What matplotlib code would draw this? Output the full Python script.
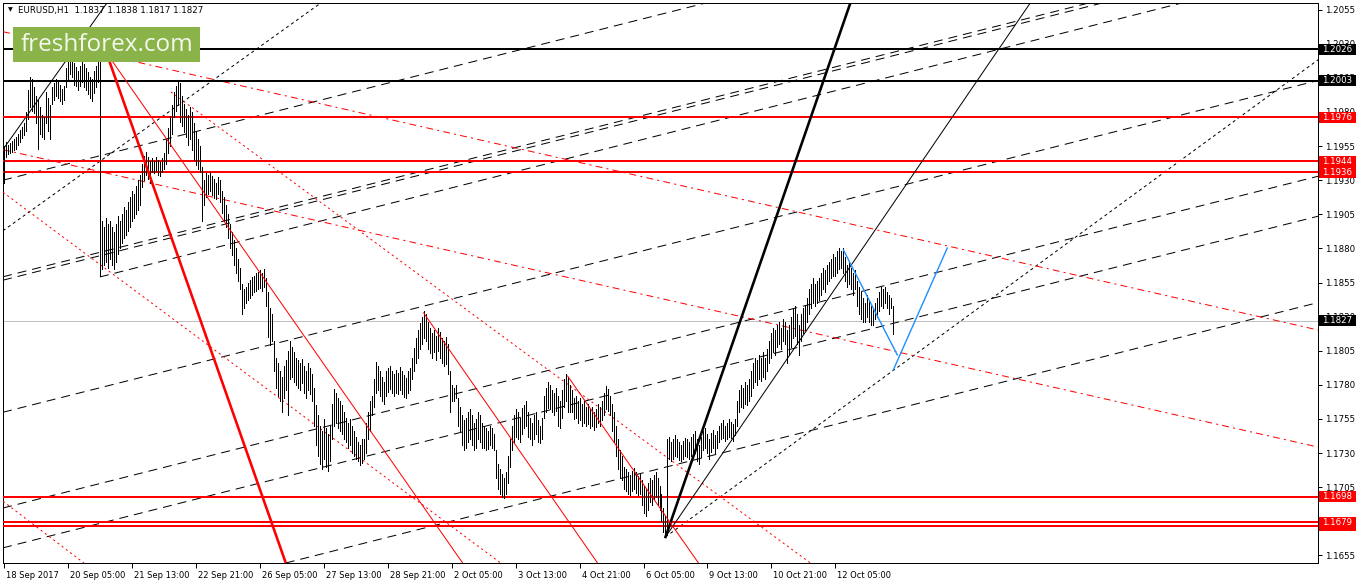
import matplotlib
matplotlib.use('Agg')
import matplotlib.pyplot as plt
import matplotlib.transforms as mtransforms
from matplotlib.patches import Rectangle

plt.rcParams['font.family'] = 'DejaVu Sans'
plt.rcParams['lines.scale_dashes'] = False

# ---------------- data ----------------
symbol_info = "EURUSD,H1  1.1837 1.1838 1.1817 1.1827"
BASE = 1.1600  # bar highs / lows below are pips above this

highs_pips = [
    355,
    358, 356, 357, 359, 360,
    362, 364, 367, 369, 372,
    380, 396, 406, 404, 398,
    392, 389, 384, 378, 376,
    395, 390, 385,
    398, 401, 404, 403, 400, 397, 399,
    412, 418, 425, 421, 416, 413, 410, 414, 417, 415,
    412, 409, 406, 404, 410, 414, 418,
    418,
    300, 296, 302, 298, 300, 296, 292, 298, 304,
    300, 305, 310, 308, 314, 318, 322, 320, 326, 330, 334,
    342, 348, 351, 347, 344,
    346, 344, 347, 345, 343, 346, 350,
    360, 368, 377, 385, 395, 399, 403, 401,
    392, 386, 382, 378, 384, 380, 372, 366, 360, 355,
    340, 330, 335, 334, 336, 333, 331, 328, 332, 330,
    322, 318, 312, 305, 298, 292, 286, 280, 272, 266,
    254, 250, 252, 255, 257, 259, 260, 262, 263, 264, 262, 265,
    258, 248, 236, 232,
    212, 200, 196, 190, 186, 194, 198,
    205, 212, 208,
    204, 200, 198, 196, 199, 194, 190, 196, 192, 188,
    178, 165, 158, 150, 146, 155, 148, 144, 150,
    166, 177, 174, 170, 168,
    165, 160, 156, 152, 155, 150, 146, 142, 138, 136, 140,
    140, 152, 160, 168,
    172, 184, 197, 194, 190, 186, 182,
    190, 192, 194, 190, 188, 191, 189, 193, 190, 187, 185, 190, 192,
    200, 207, 214, 220, 225, 230, 234, 232,
    226, 222, 218, 220, 216, 222, 219, 214, 212, 215,
    210, 190, 180, 178, 180,
    170, 164, 158, 154, 156, 160, 162, 158, 152, 155, 160, 158, 152,
    150, 148, 146, 150, 148, 144,
    132, 122, 118, 115, 112, 116, 128,
    140, 150, 158, 162, 160, 156, 163,
    165, 168, 160, 156, 152, 158, 160, 154, 150, 156,
    172, 178, 182, 180, 176, 174, 178,
    172, 168, 176, 184, 188, 186, 180,
    176, 170, 172, 168, 170, 166, 168, 164, 166, 162, 164, 160, 162, 166,
    164, 168,
    174, 179, 177, 172,
    166, 160, 150, 140, 132, 128,
    120, 118, 116, 114, 117, 119, 116, 113, 115,
    110, 106, 104, 108, 112, 110, 114, 116, 112, 106,
    100, 90, 84,
    140,
    142, 138, 140, 143, 140, 138, 136, 139, 141, 140, 138, 142,
    144, 146, 140, 136, 142, 146, 148, 144, 140, 145, 147, 143,
    146, 150, 152, 154, 150, 152, 155, 153, 151, 155,
    168, 176, 180, 178, 182, 180, 184,
    190, 196, 200, 198, 202, 200, 204, 200,
    206, 212, 218, 222, 220, 224, 226, 222, 228, 226,
    220, 224, 230, 236, 238, 232, 224, 232, 236, 238,
    244, 250, 254, 258, 254, 256, 258,
    262, 266, 264, 268, 270, 272, 276, 274, 278, 280, 278,
    280, 274, 268, 270, 266, 262, 264,
    256, 252, 248, 244, 240, 246, 242, 238, 236, 240,
    244, 248, 252, 250, 252, 248, 246, 244,
    238,
]

lows_pips = [
    328,
    347, 349, 350, 351, 352,
    353, 356, 358, 361, 363,
    366, 375, 384, 381, 379,
    372, 353, 364, 362, 360,
    372, 366, 360,
    386, 389, 392, 390, 388, 386, 389,
    398, 403, 408, 406, 400, 399, 396, 399, 402, 398,
    396, 393, 390, 388, 394, 398, 402,
    260,
    265, 268, 270, 266, 272, 268, 265, 270, 276,
    280, 284, 288, 290, 293, 296, 300, 302, 305, 308, 312,
    325, 330, 334, 331, 328,
    336, 335, 337, 334, 333, 336, 338,
    342, 350, 355, 364, 376, 381, 385, 373,
    370, 365, 362, 356, 360, 352, 345, 341, 338, 336,
    300, 312, 318, 320, 322, 319, 317, 316, 320, 314,
    306, 300, 296, 288, 280, 275, 268, 262, 256, 250,
    232, 236, 240, 242, 244, 246, 248, 249, 250, 251, 249, 252,
    238, 215, 209, 212,
    190, 178, 172, 168, 160, 170, 176,
    158, 184, 186,
    182, 180, 178, 176, 181, 174, 170, 176, 173, 168,
    150, 136, 128, 122, 118, 126, 120, 117, 124,
    140, 150, 152, 148, 146,
    144, 140, 138, 134, 136, 130, 128, 126, 124, 121, 123,
    126, 130, 140, 146,
    158, 164, 174, 176, 172, 168, 166,
    172, 175, 177, 174, 172, 174, 173, 176, 173, 171, 170, 174, 176,
    184, 190, 196, 200, 206, 210, 214, 212,
    206, 203, 200, 204, 198, 205, 200, 196, 194, 195,
    188, 160, 168, 168, 170,
    150, 146, 136, 132, 134, 138, 140, 136, 132, 134, 140, 138, 134,
    134, 132, 133, 136, 134, 132,
    112, 104, 100, 98, 97, 100, 108,
    120, 132, 138, 142, 140, 138, 144,
    148, 150, 142, 140, 136, 140, 144, 138, 137, 140,
    156, 160, 163, 162, 160, 158, 161,
    150, 148, 156, 164, 168, 160, 160,
    160, 155, 156, 152, 154, 150, 152, 150, 151, 148, 150, 147, 149, 152,
    150, 154,
    158, 162, 161, 158,
    146, 138, 128, 118, 112, 110,
    104, 102, 100, 99, 102, 104, 101, 99, 100,
    92, 86, 84, 88, 94, 92, 96, 98, 92, 88,
    80, 72, 70,
    74,
    126, 124, 126, 128, 127, 125, 124, 126, 128, 127, 126, 128,
    128, 130, 124, 122, 127, 132, 134, 130, 126, 131, 134, 130,
    134, 138, 140, 141, 139, 140, 142, 141, 139, 143,
    150, 160, 164, 163, 166, 165, 168,
    172, 178, 182, 180, 184, 183, 186, 184,
    190, 196, 200, 204, 202, 208, 210, 206, 212, 210,
    196, 202, 208, 214, 216, 210, 202, 212, 218, 220,
    226, 232, 236, 240, 238, 240, 242,
    246, 250, 248, 254, 256, 258, 260, 260, 262, 265, 266,
    262, 256, 252, 254, 250, 246, 250,
    238, 232, 228, 226, 226, 230, 226, 224, 224, 228,
    230, 234, 238, 236, 240, 236, 232, 236,
    217,
]

time_labels = ["18 Sep 2017", "20 Sep 05:00", "21 Sep 13:00", "22 Sep 21:00",
               "26 Sep 05:00", "27 Sep 13:00", "28 Sep 21:00", "2 Oct 05:00",
               "3 Oct 13:00", "4 Oct 21:00", "6 Oct 05:00", "9 Oct 13:00",
               "10 Oct 21:00", "12 Oct 05:00"]
bars_per_label = 32

price_ticks = [1.1655, 1.1680, 1.1705, 1.1730, 1.1755, 1.1780, 1.1805, 1.1830,
               1.1855, 1.1880, 1.1905, 1.1930, 1.1955, 1.1980, 1.2005, 1.2030, 1.2055]

black_levels = [1.2026, 1.2003]
red_levels = [1.1976, 1.1944, 1.1936, 1.1698, 1.16766, 1.16792]
last_price = 1.1827

# drawn objects as (bar, price) anchors
channel_lines = [  # long-dash black, full lines
    ((0, 1.19302), (657.5, 1.21731)),
    ((0, 1.18594), (657.5, 1.21023)),
    ((0, 1.18569), (657.5, 1.20998)),
    ((0, 1.17601), (657.5, 1.20031)),
    ((0, 1.16899), (657.5, 1.19329)),
    ((0, 1.16607), (657.5, 1.19036)),
    ((0, 1.15973), (657.5, 1.18403)),
]
channel_rays = [((48, 1.18591), (657.5, 1.20852))]
thick_black_rays = [((331, 1.16685), (423.5, 1.20599))]
thin_black_rays = [((331, 1.16685), (513.5, 1.20599))]
thin_black_lines = [((0, 1.19536), (51.5, 1.20599))]
dotted_black_lines = [((0, 1.18935), (158.5, 1.20599))]
dotted_black_rays = [((331, 1.16685), (657.5, 1.20182))]
thick_red_rays = [((49, 1.20328), (141, 1.16494))]
thin_red_rays = [((48.5, 1.20292), (229.5, 1.16494)),
                 ((210, 1.18327), (297, 1.16494)),
                 ((282, 1.17865), (347.5, 1.16494))]
dashdot_red_lines = [((0, 1.20387), (657.5, 1.18202)),
                     ((0, 1.19522), (657.5, 1.17344))]
dotted_red_lines = [((0, 1.19206), (248.5, 1.16494)),
                    ((0, 1.16941), (40, 1.16494))]
dotted_red_rays = [((83.5, 1.19947), (403.5, 1.16494))]
blue_path = [[(420, 1.18789), (447, 1.18019)],
             [(445, 1.17909), (472, 1.18803)]]

# ---------------- styles ----------------
LONG_DASH = (0, (6.5, 4.3))
SHORT_DOT = (0, (2.2, 2.2))
DASH_DOT = (0, (5.0, 3.0, 1.5, 3.0))
RED_DOT = (0, (1.5, 2.3))
PX = 0.72  # one pixel in points at 100 dpi

W, H = 1358, 584
fig = plt.figure(figsize=(W / 100, H / 100), dpi=100)
ax = fig.add_axes([3 / W, 21 / H, 1315 / W, 560 / H])
YLO, YHI = 1.16494, 1.20599
ax.set_xlim(-0.5, 657.5)
ax.set_ylim(YLO, YHI)


def full_line(p0, p1, **kw):
    ax.axline(p0, p1, **kw)


def ray(p0, p1, **kw):
    (b0, v0), (b1, v1) = p0, p1
    k = (v1 - v0) / (b1 - b0)
    far = 2000 if b1 > b0 else -2000
    ax.plot([b0, b0 + far], [v0, v0 + k * far], **kw)


# bars
n = min(len(highs_pips), len(lows_pips))
bar_x = list(range(n))
highs = [BASE + h / 10000 for h in highs_pips[:n]]
lows = [BASE + l / 10000 for l in lows_pips[:n]]
ax.vlines(bar_x, lows, highs, colors='black', linewidth=0.5, antialiased=False, zorder=5)

# horizontal levels
ax.axhline(last_price, color='#c0c0c0', lw=PX, zorder=2)
for lv in black_levels:
    ax.axhline(lv, color='black', lw=2 * PX, zorder=4, antialiased=False)
for lv in red_levels:
    ax.axhline(lv, color='#ff0000', lw=1.6 * PX, zorder=4, antialiased=False)

# trend objects
for a, b in channel_lines:
    full_line(a, b, color='black', lw=PX, ls=LONG_DASH, zorder=3)
for a, b in channel_rays:
    ray(a, b, color='black', lw=PX, ls=LONG_DASH, zorder=3)
for a, b in thick_black_rays:
    ray(a, b, color='black', lw=2.6 * PX, zorder=6)
for a, b in thin_black_rays:
    ray(a, b, color='black', lw=PX, zorder=6)
for a, b in thin_black_lines:
    full_line(a, b, color='black', lw=PX, zorder=3)
for a, b in dotted_black_lines:
    full_line(a, b, color='black', lw=PX, ls=SHORT_DOT, zorder=3)
for a, b in dotted_black_rays:
    ray(a, b, color='black', lw=PX, ls=SHORT_DOT, zorder=3)
for a, b in thick_red_rays:
    ray(a, b, color='#ff0000', lw=2.6 * PX, zorder=6)
for a, b in thin_red_rays:
    ray(a, b, color='#ff0000', lw=PX, zorder=6)
for a, b in dashdot_red_lines:
    full_line(a, b, color='#ff0000', lw=PX, ls=DASH_DOT, zorder=3)
for a, b in dotted_red_lines:
    full_line(a, b, color='#ff0000', lw=PX, ls=RED_DOT, zorder=3)
for a, b in dotted_red_rays:
    ray(a, b, color='#ff0000', lw=PX, ls=RED_DOT, zorder=3)
for seg in blue_path:
    ax.plot([p[0] for p in seg], [p[1] for p in seg], color='#1e90ff', lw=1.4 * PX, zorder=7)

# axes / ticks
for s in ax.spines.values():
    s.set_linewidth(PX)
ax.yaxis.tick_right()
ax.set_yticks(price_ticks)
ax.set_yticklabels([f'{t:.4f}' for t in price_ticks])
ax.tick_params(axis='y', direction='out', length=3, width=PX, pad=2, labelsize=6.2)
ax.set_xticks([i * bars_per_label for i in range(len(time_labels))])
ax.set_xticklabels(time_labels)
ax.tick_params(axis='x', direction='out', length=3.5, width=PX, pad=2, labelsize=6.0)
offset = mtransforms.ScaledTranslation(2 / 100, 0, fig.dpi_scale_trans)
for lab in ax.get_xticklabels():
    lab.set_horizontalalignment('left')
    lab.set_transform(lab.get_transform() + offset)

# price tags on the right scale (each box covers what lies beneath it)
tag_trans = mtransforms.blended_transform_factory(ax.transAxes, ax.transData)
tag_w = 37 / 1315
tag_h = (YHI - YLO) * 11 / 560
tag_z = [20]


def price_tag(price, fc):
    z = tag_z[0]
    ax.add_patch(Rectangle((1 + 1 / 1315, price - tag_h / 2), tag_w, tag_h,
                           transform=tag_trans, facecolor=fc, edgecolor='none',
                           clip_on=False, zorder=z))
    ax.text(1 + 1 / 1315 + tag_w / 2, price, f'{price:.4f}', transform=tag_trans,
            color='white', fontsize=6.2, ha='center', va='center', clip_on=False,
            zorder=z + 0.5)
    tag_z[0] += 1


for lv in black_levels:
    price_tag(lv, 'black')
for lv in red_levels:
    price_tag(lv, '#ff0000')
price_tag(last_price, 'black')

# header and logo
fig.text(8 / W, 1 - 10 / H, '\u25bc', fontsize=4.5, va='center', ha='left')
fig.text(18 / W, 1 - 10 / H, symbol_info, fontsize=6.2, va='center', ha='left')
fig.add_artist(Rectangle((13 / W, 1 - 62 / H), 187 / W, 35 / H, transform=fig.transFigure,
                         facecolor='#8ab34a', edgecolor='none', zorder=30))
fig.text(107 / W, 1 - 45 / H, 'freshforex.com', fontsize=17.5, family='Open Sans',
         color='#f3f7ec', ha='center', va='center', zorder=31)

fig.savefig('out.png', dpi=100)
